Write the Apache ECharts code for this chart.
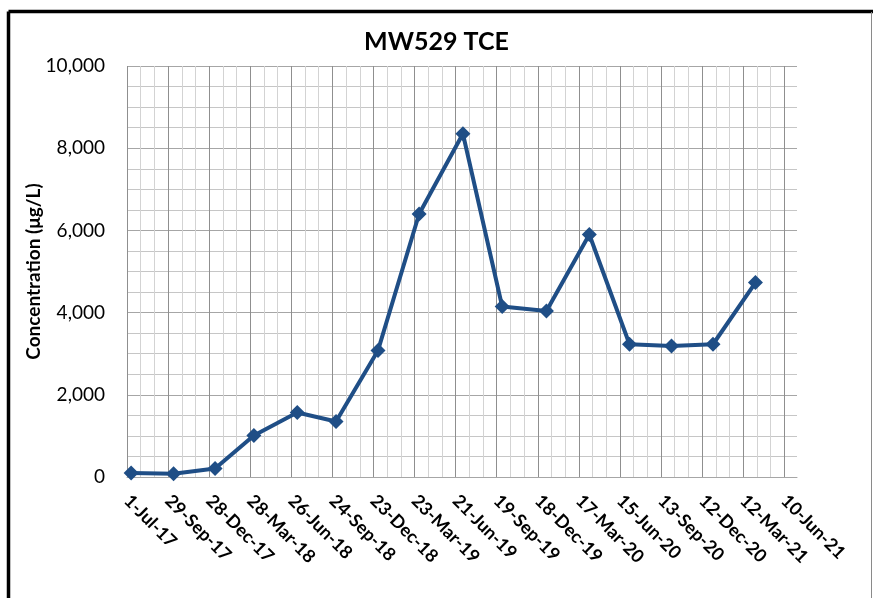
<!DOCTYPE html>
<html>
<head>
<meta charset="utf-8">
<script src="https://cdn.jsdelivr.net/npm/echarts@6/dist/echarts.min.js"></script>
<style>
html,body{margin:0;padding:0;background:#fff;}
#chart{width:873px;height:598px;}
</style>
</head>
<body>
<div id="chart"></div>
<script>
// ---- data ----
const chartTitle = 'MW529 TCE';
const yAxisTitle = 'Concentration (\u03BCg/L)';
const axisStartDate = '2017-07-01';
const tickStepDays = 90;
const tickLabels = ['1-Jul-17','29-Sep-17','28-Dec-17','28-Mar-18','26-Jun-18','24-Sep-18','23-Dec-18','23-Mar-19','21-Jun-19','19-Sep-19','18-Dec-19','17-Mar-20','15-Jun-20','13-Sep-20','12-Dec-20','12-Mar-21','10-Jun-21'];
const axisEndExtraDays = 28;
const sampleDates = ['2017-07-10','2017-10-11','2018-01-10','2018-04-05','2018-07-09','2018-10-02','2019-01-02','2019-04-02','2019-07-07','2019-10-01','2020-01-06','2020-04-09','2020-07-06','2020-10-06','2021-01-05','2021-04-08'];
const tceValues = [95, 80, 205, 1010, 1570, 1350, 3080, 6400, 8350, 4150, 4040, 5900, 3230, 3190, 3230, 4730];
const yTicks = {min: 0, max: 10000, step: 2000, minorSplit: 4};

// ---- build ----
const DAY = 86400000;
function toDays(s){
  const a = s.split('-').map(Number), b = axisStartDate.split('-').map(Number);
  return Math.round((Date.UTC(a[0],a[1]-1,a[2]) - Date.UTC(b[0],b[1]-1,b[2])) / DAY);
}
const seriesData = sampleDates.map((d,i)=>[toDays(d), tceValues[i]]);
const xMax = (tickLabels.length-1)*tickStepDays + axisEndExtraDays;
const font = 'Lato, "Open Sans", sans-serif';

const chart = echarts.init(document.getElementById('chart'), null, {renderer:'canvas'});
chart.setOption({
  backgroundColor: '#ffffff',
  animation: false,
  title: {
    text: chartTitle, left: 'center', top: 24,
    textStyle: {fontFamily: font, fontSize: 25, fontWeight: 'bold', color: '#000'}
  },
  grid: {left: 127, right: 76, top: 66, bottom: 121, containLabel: false, outerBoundsMode: 'none'},
  xAxis: [
    {
      type: 'value', position: 'bottom', min: 0, max: xMax, interval: tickStepDays/3,
      axisLine: {show: false}, axisTick: {show: false}, axisLabel: {show: false},
      splitLine: {show: true, showMaxLine: false, lineStyle: {color: '#d3d3d3', width: 1}}
    },
    {
      type: 'value', position: 'bottom', min: 0, max: xMax, interval: tickStepDays,
      axisLine: {show: true, lineStyle: {color: '#a6a6a6', width: 1}},
      axisTick: {show: false},
      axisLabel: {
        show: true, rotate: -45, margin: 21, showMaxLabel: false,
        fontFamily: font, fontSize: 18, fontWeight: 'bold', color: '#000',
        formatter: function(v){
          if (v % tickStepDays !== 0) return '';
          const i = v / tickStepDays;
          return tickLabels[i] || '';
        }
      },
      splitLine: {show: true, showMaxLine: false, lineStyle: {color: '#8f8f8f', width: 1}}
    }
  ],
  yAxis: {
    type: 'value', min: yTicks.min, max: yTicks.max, interval: yTicks.step,
    name: yAxisTitle, nameLocation: 'middle', nameRotate: 90, nameGap: 84,
    nameMoveOverlap: false,
    nameTextStyle: {fontFamily: font, fontSize: 19, fontWeight: 'bold', color: '#000'},
    axisLine: {show: false}, axisTick: {show: false},
    axisLabel: {
      margin: 22, fontFamily: font, fontSize: 19, color: '#000',
      formatter: function(v){ return v.toLocaleString('en-US'); }
    },
    splitLine: {show: true, lineStyle: {color: '#a6a6a6', width: 1}},
    minorTick: {show: false, splitNumber: yTicks.minorSplit},
    minorSplitLine: {show: true, lineStyle: {color: '#c6c6c6', width: 1}}
  },
  series: [{
    type: 'line', xAxisIndex: 1, data: seriesData,
    symbol: 'diamond', symbolSize: 15,
    lineStyle: {color: '#1f4e86', width: 4},
    itemStyle: {color: '#1f4e86'},
    z: 5
  }],
  graphic: [
    {type: 'line', shape: {x1: 8.5, y1: 11.5, x2: 873, y2: 11.5}, style: {stroke: '#000', lineWidth: 3.5}, z: 100},
    {type: 'line', shape: {x1: 8.5, y1: 11.5, x2: 8.5, y2: 598}, style: {stroke: '#000', lineWidth: 3.5}, z: 100},
    {type: 'line', shape: {x1: 871.5, y1: 12, x2: 871.5, y2: 598}, style: {stroke: '#8a8a8a', lineWidth: 1}, z: 100}
  ]
});
</script>
</body>
</html>
